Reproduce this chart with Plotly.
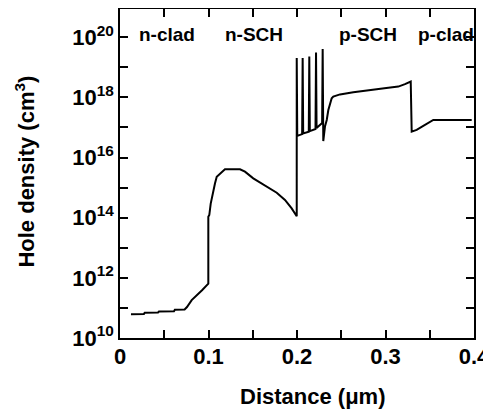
import plotly.graph_objects as go

# Distance (um) and log10 of hole density (cm^-3)
distance_um = [0.0124, 0.027, 0.028, 0.043, 0.044, 0.061, 0.062, 0.073, 0.0757, 0.081,
               0.0927, 0.0998, 0.0998, 0.1009, 0.1025, 0.1047, 0.1073, 0.1093, 0.113, 0.1186,
               0.1356, 0.1412, 0.1506, 0.1658, 0.1771, 0.1864, 0.194, 0.1997,
               0.1997, 0.2003, 0.2058, 0.2064, 0.2070, 0.2133, 0.2139, 0.2145, 0.2209, 0.2215,
               0.2221, 0.2284, 0.2290, 0.2295, 0.2297, 0.2316, 0.2336, 0.2354, 0.2392, 0.241,
               0.2486, 0.2636, 0.2768, 0.29, 0.3032, 0.3145, 0.322, 0.3285, 0.3296, 0.3352,
               0.3427, 0.3484, 0.354, 0.3974]
log_density = [10.79, 10.80, 10.84, 10.85, 10.88, 10.89, 10.94, 10.95, 11.03, 11.26,
               11.59, 11.81, 14.03, 14.09, 14.47, 14.81, 15.14, 15.36, 15.47, 15.61,
               15.61, 15.53, 15.31, 15.03, 14.83, 14.59, 14.31, 14.05,
               19.31, 16.72, 16.78, 19.31, 16.80, 16.86, 19.36, 16.88, 16.95, 19.49,
               16.98, 17.15, 19.61, 17.20, 16.55, 17.03, 17.25, 17.58, 17.97, 18.03,
               18.10, 18.17, 18.21, 18.27, 18.32, 18.36, 18.44, 18.53, 16.86, 16.92,
               17.05, 17.14, 17.25, 17.25]

region_names = ["n-clad", "n-SCH", "p-SCH", "p-clad"]
region_x = [0.053, 0.151, 0.280, 0.368]
region_logy = [20.10, 20.10, 20.10, 20.10]

x_tickvals = [0, 0.05, 0.1, 0.15, 0.2, 0.25, 0.3, 0.35, 0.4]
x_ticktext = ["0", "", "0.1", "", "0.2", "", "0.3", "", "0.4"]
y_exponents = [10, 11, 12, 13, 14, 15, 16, 17, 18, 19, 20]

density = [10.0 ** v for v in log_density]
y_tickvals = [10.0 ** e for e in y_exponents]
y_ticktext = [f"<b>10<sup>{e}</sup></b>" if e % 2 == 0 else "" for e in y_exponents]
x_ticktext_b = [f"<b>{t}</b>" if t else "" for t in x_ticktext]

FONT = "Liberation Sans, Arial, sans-serif"

fig = go.Figure()
fig.add_trace(go.Scatter(x=distance_um, y=density, mode="lines",
                         line=dict(color="black", width=2), showlegend=False))

for name, xv, yv in zip(region_names, region_x, region_logy):
    fig.add_annotation(x=xv, y=yv, xref="x", yref="y", text=f"<b>{name}</b>",
                       showarrow=False, font=dict(family=FONT, size=19, color="black"))

fig.add_annotation(x=0.545, y=-0.179, xref="paper", yref="paper", text="<b>Distance (μm)</b>",
                   showarrow=False, xanchor="center", yanchor="middle",
                   font=dict(family=FONT, size=22, color="black"))
fig.add_annotation(x=-0.271, y=0.506, xref="paper", yref="paper",
                   text="<b>Hole density (cm<sup>3</sup>)</b>", textangle=-90,
                   showarrow=False, xanchor="center", yanchor="middle",
                   font=dict(family=FONT, size=22, color="black"))

# page body has an 8px margin, so the figure is sized to fit inside the window
fig.update_layout(
    width=483, height=405,
    margin=dict(l=112, r=17, t=1, b=75),
    paper_bgcolor="white", plot_bgcolor="white",
    font=dict(family=FONT, color="black"),
    xaxis=dict(range=[0, 0.4], tickvals=x_tickvals, ticktext=x_ticktext_b,
               ticks="inside", ticklen=8, tickwidth=1.5, tickcolor="black",
               showline=True, linecolor="black", linewidth=1.5, mirror="ticks",
               showgrid=False, zeroline=False, automargin=False,
               ticklabelstandoff=-2,
               tickfont=dict(family=FONT, size=22, color="black")),
    yaxis=dict(type="log", range=[10, 20.94], tickvals=y_tickvals, ticktext=y_ticktext,
               ticks="inside", ticklen=8, tickwidth=1.5, tickcolor="black",
               showline=True, linecolor="black", linewidth=1.5, mirror="ticks",
               showgrid=False, zeroline=False, automargin=False,
               tickfont=dict(family=FONT, size=22, color="black")),
)

fig.write_html("out.html")
